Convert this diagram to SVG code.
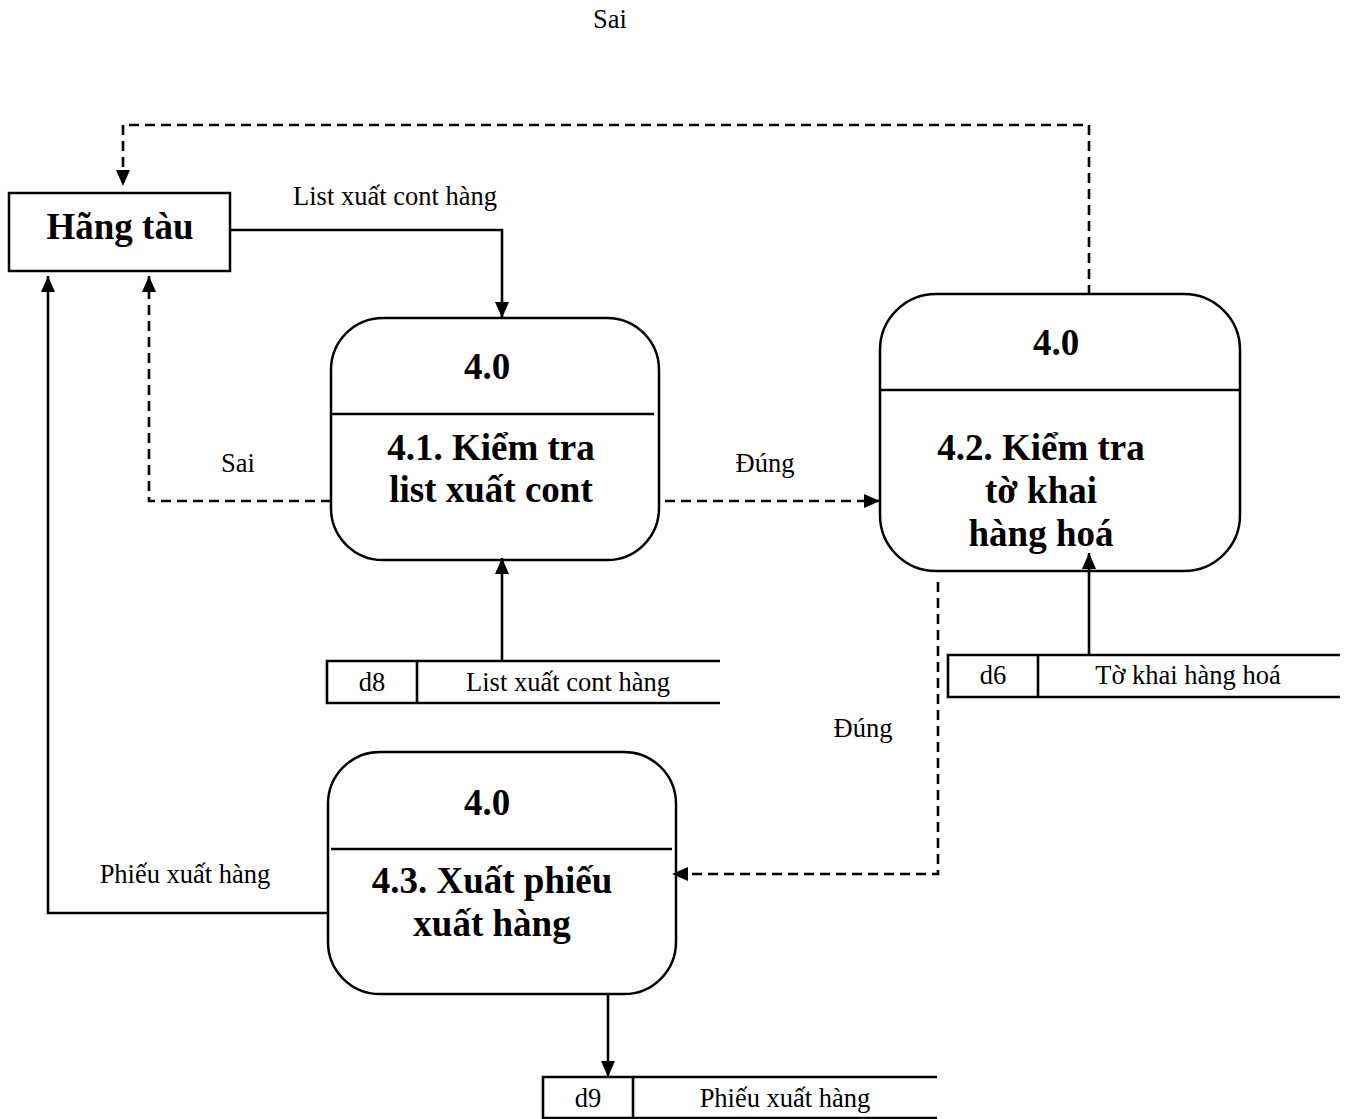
<svg xmlns="http://www.w3.org/2000/svg" width="1348" height="1119" viewBox="0 0 1348 1119">
  <style>
    .shape { fill: #fff; stroke: #000; stroke-width: 2.5; }
    .edge { fill: none; stroke: #000; stroke-width: 2.6; }
    .dash { stroke-dasharray: 10 6; }
    .bold { font-family: "Liberation Serif", "Times New Roman", serif; font-weight: bold; font-size: 37px; text-anchor: middle; fill: #000; }
    .lbl { font-family: "Liberation Serif", "Times New Roman", serif; font-size: 26.5px; text-anchor: middle; fill: #000; }
  </style>
  <defs>
    <marker id="arrow" markerUnits="userSpaceOnUse" markerWidth="16" markerHeight="16" viewBox="0 0 16 16" refX="16" refY="8" orient="auto">
      <path d="M0,1 L16,8 L0,15 Z" fill="#000"/>
    </marker>
  </defs>

  <!-- external entity -->
  <g id="hang-tau">
    <rect class="shape" x="9" y="193" width="221" height="78"/>
    <text class="bold" x="120" y="239">Hãng tàu</text>
  </g>

  <!-- process 4.1 -->
  <g id="p41">
    <rect class="shape" x="331" y="318" width="328" height="242" rx="52" ry="52"/>
    <line class="edge" x1="331" y1="414" x2="654" y2="414"/>
    <text class="bold" x="487" y="379">4.0</text>
    <text class="bold" x="491" y="460">4.1. Kiểm tra</text>
    <text class="bold" x="491" y="502">list xuất cont</text>
  </g>

  <!-- process 4.2 -->
  <g id="p42">
    <rect class="shape" x="880" y="294" width="360" height="277" rx="56" ry="56"/>
    <line class="edge" x1="880" y1="390" x2="1240" y2="390"/>
    <text class="bold" x="1056" y="355">4.0</text>
    <text class="bold" x="1041" y="460">4.2. Kiểm tra</text>
    <text class="bold" x="1041" y="503">tờ khai</text>
    <text class="bold" x="1041" y="546">hàng hoá</text>
  </g>

  <!-- process 4.3 -->
  <g id="p43">
    <rect class="shape" x="328" y="752" width="348" height="242" rx="52" ry="52"/>
    <line class="edge" x1="331" y1="849" x2="672" y2="849"/>
    <text class="bold" x="487" y="815">4.0</text>
    <text class="bold" x="492" y="893">4.3. Xuất phiếu</text>
    <text class="bold" x="492" y="936">xuất hàng</text>
  </g>

  <!-- data stores -->
  <g id="d8">
    <path class="edge" d="M720,661 H327 V703 H720 M417,661 V703"/>
    <text class="lbl" x="372" y="691">d8</text>
    <text class="lbl" x="568" y="691">List xuất cont hàng</text>
  </g>
  <g id="d6">
    <path class="edge" d="M1340,655 H948 V697 H1340 M1038,655 V697"/>
    <text class="lbl" x="993" y="684">d6</text>
    <text class="lbl" x="1188" y="684">Tờ khai hàng hoá</text>
  </g>
  <g id="d9">
    <path class="edge" d="M937,1077 H543 V1118 H937 M633,1077 V1118"/>
    <text class="lbl" x="588" y="1107">d9</text>
    <text class="lbl" x="785" y="1107">Phiếu xuất hàng</text>
  </g>

  <!-- connectors -->
  <g id="connectors">
    <path class="edge" d="M230,230 H502 V318" marker-end="url(#arrow)"/>
    <path class="edge dash" d="M1089,295 V125 H123 V186" marker-end="url(#arrow)"/>
    <path class="edge dash" d="M331,501 H149 V276" marker-end="url(#arrow)"/>
    <path class="edge dash" d="M665,501 H880" marker-end="url(#arrow)"/>
    <path class="edge" d="M502,660 V558" marker-end="url(#arrow)"/>
    <path class="edge" d="M1089,655 V553" marker-end="url(#arrow)"/>
    <path class="edge dash" d="M938,582 V874 H672" marker-end="url(#arrow)"/>
    <path class="edge" d="M328,913 H48 V276" marker-end="url(#arrow)"/>
    <path class="edge" d="M608,994 V1077" marker-end="url(#arrow)"/>
  </g>

  <!-- flow labels -->
  <g id="labels">
    <text class="lbl" x="610" y="28">Sai</text>
    <text class="lbl" x="395" y="205">List xuất cont hàng</text>
    <text class="lbl" x="238" y="472">Sai</text>
    <text class="lbl" x="765" y="472">Đúng</text>
    <text class="lbl" x="863" y="737">Đúng</text>
    <text class="lbl" x="185" y="883">Phiếu xuất hàng</text>
  </g>
</svg>
